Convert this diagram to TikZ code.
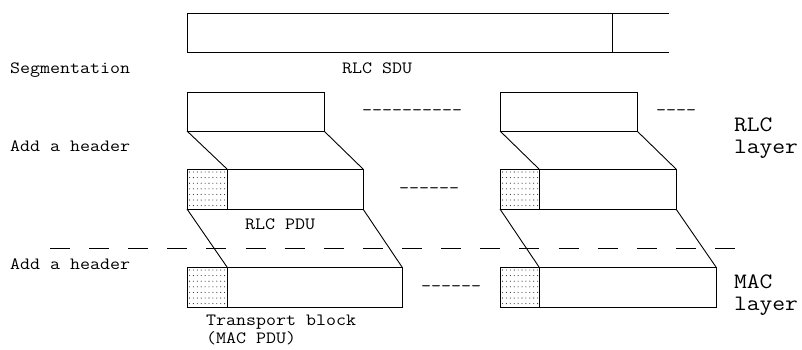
\documentclass[tikz,border=0pt]{standalone}
\usepackage{fontspec}
\setmonofont{Latin Modern Mono}[FakeStretch=1.13]
\begin{document}
\begin{tikzpicture}[x=1pt,y=-1pt,
  box/.style={draw, line width=1pt, inner sep=0pt, outer sep=0pt, anchor=north west},
  conn/.style={line width=0.9pt},
  lbl/.style={inner sep=0pt, outer sep=0pt, anchor=base west, font=\ttfamily\fontsize{17.2}{18}\selectfont, align=left},
  biglbl/.style={lbl, font=\ttfamily\fontsize{22}{21.5}\selectfont},
  sep/.style={line width=1pt, dash pattern=on 20pt off 19.12pt},
  dotfill/.pic={\foreach \i in {0,...,9} \foreach \j in {0,...,6} \fill[black!85] (2.5+\i*3.9, 3+\j*5.6) circle (0.55pt);}
]
\useasboundingbox (0,0) rectangle (802,349);

% RLC SDU (open at the right)
\coordinate (sduTR) at (669,13);
\coordinate (sduTL) at (187,13);
\coordinate (sduBL) at (187,52);
\coordinate (sduBR) at (669,52);
\coordinate (divT) at (612,13);
\coordinate (divB) at (612,52);
\draw[line width=1pt] (sduTR) -- (sduTL) -- (sduBL) -- (sduBR);
\draw[line width=1pt] (divT) -- (divB);

% segments
\node[box, minimum width=137pt, minimum height=39pt] (seg1) at (187,92) {};
\node[box, minimum width=137pt, minimum height=39pt] (seg2) at (500,92) {};

% RLC PDUs
\pic at (187,169) {dotfill};
\node[box, minimum width=40pt, minimum height=40pt] (h1) at (187,169) {};
\node[box, minimum width=136pt, minimum height=40pt] (b1) at (227,169) {};
\pic at (500,169) {dotfill};
\node[box, minimum width=39pt, minimum height=40pt] (h2) at (500,169) {};
\node[box, minimum width=137pt, minimum height=40pt] (b2) at (539,169) {};

% MAC PDUs
\pic at (187,267) {dotfill};
\node[box, minimum width=40pt, minimum height=40pt] (mh1) at (187,267) {};
\node[box, minimum width=175pt, minimum height=40pt] (mb1) at (227,267) {};
\pic at (500,267) {dotfill};
\node[box, minimum width=39pt, minimum height=40pt] (mh2) at (500,267) {};
\node[box, minimum width=177pt, minimum height=40pt] (mb2) at (539,267) {};

% connectors
\draw[conn] (seg1.south west) -- (b1.north west);
\draw[conn] (seg1.south east) -- (b1.north east);
\draw[conn] (seg2.south west) -- (b2.north west);
\draw[conn] (seg2.south east) -- (b2.north east);
\draw[conn] (h1.south west) -- (mb1.north west);
\draw[conn] (b1.south east) -- (mb1.north east);
\draw[conn] (h2.south west) -- (mb2.north west);
\draw[conn] (b2.south east) -- (mb2.north east);

% layer separator
\coordinate (sepL) at (50,248);
\coordinate (sepR) at (735,248);
\draw[sep] (sepL) -- (sepR);

% texts
\node[lbl] (tseg) at (10,73) {Segmentation};
\node[lbl] (tsdu) at (342,73) {RLC SDU};
\node[lbl] (tadd1) at (10,151) {Add a header};
\node[lbl] (tadd2) at (10,269) {Add a header};
\node[lbl] (trlcpdu) at (245,229) {RLC PDU};
\node[lbl] (ttb) at (206,343) {Transport block\\(MAC PDU)};
\node[biglbl] (trlc) at (734,153) {RLC\\layer};
\node[biglbl] (tmac) at (734,310) {MAC\\layer};
\node[lbl] (d1) at (362,115.5) {----------};
\node[lbl] (d2) at (656,115.5) {----};
\node[lbl] (d3) at (399,193.5) {------};
\node[lbl] (d4) at (421,291.5) {------};
\end{tikzpicture}
\end{document}
